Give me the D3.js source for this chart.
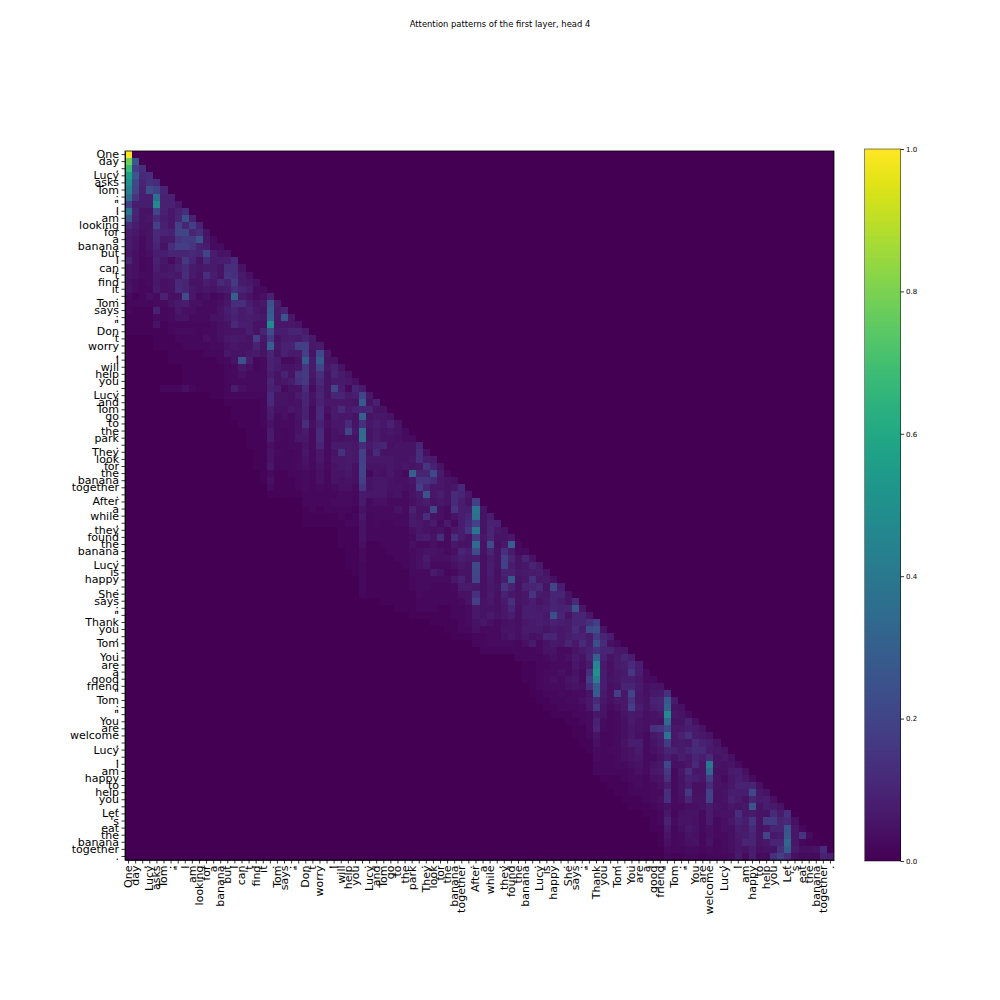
<!DOCTYPE html>
<html>
<head>
<meta charset="utf-8">
<script src="https://cdn.jsdelivr.net/npm/d3@7/dist/d3.min.js"></script>
<style>
html,body{margin:0;padding:0;background:#fff;}
svg{display:block;}
text{font-family:"DejaVu Sans",sans-serif;fill:#000;}
</style>
</head>
<body>
<div id="chart"></div>
<script>
const titleText = "Attention patterns of the first layer, head 4";
const tokens = ["One","day",",","Lucy","asks","Tom",":","\"","I","am","looking","for","a","banana","but","I","can","'t","find","it",".","Tom","says",":","\"","Don","'t","worry",",","I","will","help","you",".","Lucy","and","Tom","go","to","the","park",".","They","look","for","the","banana","together",".","After","a","while",",","they","found","the","banana",".","Lucy","is","happy",".","She","says",":","\"","Thank","you",",","Tom",".","You","are","a","good","friend","\"","Tom",":","\"","You","are","welcome",",","Lucy",".","I","am","happy","to","help","you",".","Let","'s","eat","the","banana","together","."];
const colorbarTicks = [0,0.2,0.4,0.6,0.8,1.0];
// Attention in hundredths. Each row ends on the diagonal; omitted leading columns are zero.
const attentionRows = [
[100],
[78,27],
[68,18,14],
[56,27,11,13],
[50,22,10,14,12],
[44,20,9,23,19,10],
[36,15,8,8,36,9,9],
[19,8,8,8,47,9,9,6],
[38,10,5,5,20,9,6,9,13],
[26,9,5,6,12,8,6,10,24,9],
[11,8,5,5,19,9,6,19,10,18,9],
[8,6,4,5,12,10,9,20,20,10,13,5],
[7,5,3,5,11,6,7,15,17,17,25,6,3],
[7,5,3,5,10,5,13,18,18,15,9,8,3,3],
[6,4,3,4,8,8,10,10,10,11,10,20,8,5,5],
[10,4,2,3,9,6,3,7,16,10,5,12,7,8,8,12],
[5,4,2,3,8,5,6,9,12,7,6,7,7,5,13,13,5],
[5,4,3,3,6,6,7,6,13,7,5,13,8,5,15,14,7,4],
[4,3,2,3,6,4,5,11,10,5,5,8,6,11,9,17,7,6,4],
[5,3,2,2,7,4,5,12,10,6,5,6,5,7,8,14,10,8,3,3],
[3,1,2,4,3,9,4,4,23,6,3,4,2,3,5,30,7,5,3,4,9],
[2,2,2,2,3,3,5,7,8,4,4,3,3,4,6,13,13,8,5,6,25,8],
[2,1,1,1,9,2,3,6,4,4,3,3,3,5,8,10,7,9,6,5,28,7,10],
[1,1,1,1,3,2,3,5,5,3,3,3,5,5,7,9,7,8,7,6,30,7,25,6],
[1,1,1,1,5,1,2,2,2,2,2,2,3,4,5,11,8,8,5,5,48,6,6,6,5],
[1,1,1,1,1,1,2,3,3,3,2,3,3,4,5,5,5,8,5,10,23,8,8,10,10,7],
[1,1,1,2,2,2,2,4,3,4,6,7,6,5,18,6,17,5,7,8,7,10,7],
[1,1,1,1,2,2,2,2,3,3,5,6,5,5,9,5,30,6,9,9,18,18,6,7],
[1,1,1,1,1,2,2,2,6,5,5,6,7,5,10,5,9,7,7,18,5,22,6],
[1,1,1,1,1,1,1,2,3,5,25,8,2,3,9,8,3,3,5,28,7,28,5,5],
[1,1,1,1,1,1,2,3,6,4,2,3,9,7,5,5,6,16,7,20,6,9,5],
[1,1,1,1,1,1,2,3,4,3,3,3,8,5,9,5,15,17,6,13,5,10,7,5],
[1,1,1,1,1,1,2,3,3,3,3,3,10,5,6,8,14,17,5,11,5,7,7,6,4],
[2,2,2,4,2,1,1,1,1,2,8,4,3,3,3,9,8,3,5,5,12,3,9,5,21,8,2,10,7],
[1,1,2,2,2,2,2,2,12,5,5,4,7,10,5,10,5,10,10,7,8,20,6],
[1,1,1,1,1,2,11,5,5,4,5,10,4,9,6,6,6,6,5,28,5,9],
[1,1,1,1,2,8,4,4,6,5,9,3,11,4,7,12,7,9,10,10,5,5],
[1,1,1,1,2,7,3,4,3,5,9,3,12,3,7,6,6,5,30,5,6,6,5],
[1,1,1,2,5,3,3,3,4,13,4,9,4,6,6,12,5,14,6,8,6,9,5],
[1,1,1,7,3,2,3,5,7,3,12,3,5,6,20,6,35,5,7,5,6,5,3],
[1,1,1,7,3,2,3,6,6,3,12,3,5,4,5,5,36,5,7,5,5,4,3,3],
[1,1,1,4,2,2,3,3,5,3,10,3,7,7,7,6,12,7,9,10,4,5,5,5,10],
[1,1,5,3,2,2,3,6,3,6,3,5,14,7,6,19,5,12,5,5,5,5,5,13,4],
[1,1,5,2,2,2,3,5,3,6,3,6,6,7,6,19,6,6,6,6,5,5,6,13,8,7],
[1,1,6,2,2,2,3,4,3,5,3,5,6,7,4,20,5,5,5,6,5,6,5,6,15,9,5],
[1,3,1,1,2,2,3,2,4,2,5,5,6,4,20,2,5,4,6,4,3,30,10,10,22,7,2],
[1,4,1,1,1,2,3,2,4,2,5,4,5,4,18,5,6,6,5,4,4,6,15,15,12,6,5,4],
[3,1,1,1,2,3,2,3,2,3,4,4,3,15,5,6,6,5,5,4,5,18,10,6,6,5,6,11],
[1,1,1,1,1,2,2,2,2,2,3,3,2,7,6,6,6,4,5,3,5,7,25,6,8,5,12,10,6],
[2,2,2,2,3,3,3,2,7,3,4,4,3,3,3,4,6,8,5,6,5,12,8,5,18],
[1,2,1,2,2,2,2,1,5,3,3,3,3,5,3,9,5,5,22,4,3,15,8,8,38,5],
[1,1,1,1,1,2,1,2,6,2,3,3,3,3,3,7,5,13,5,4,3,5,8,10,36,5,8],
[1,1,1,1,1,1,2,2,5,2,3,2,2,3,3,7,6,5,7,3,7,3,8,12,19,5,9,9],
[1,1,1,5,2,2,2,2,2,2,4,6,5,4,5,3,6,8,15,39,5,10,6,5],
[1,1,1,5,2,2,2,2,2,2,3,7,8,5,13,3,14,7,5,17,6,10,5,5,6],
[1,1,1,4,1,1,2,2,2,2,4,3,3,4,3,3,6,5,5,34,5,23,4,6,29,2],
[1,1,3,1,1,1,2,2,2,3,4,5,5,4,3,4,10,8,23,5,10,5,14,7,3,3],
[1,1,3,1,1,1,1,2,2,3,4,7,4,4,4,6,8,7,8,4,7,5,18,10,5,10,5],
[1,1,2,1,1,1,1,1,2,3,4,6,3,3,3,4,6,5,22,4,8,5,19,8,5,6,10,7],
[1,2,1,1,1,1,1,1,3,3,3,7,5,2,3,5,5,21,4,8,4,9,9,6,7,7,8,5],
[2,1,1,1,1,1,1,2,3,3,3,3,3,6,9,5,20,4,7,4,8,27,5,6,14,6,7,4],
[2,1,1,1,1,1,1,2,3,3,2,2,2,3,7,7,7,4,6,5,15,9,5,9,10,11,5,20,8],
[2,1,1,1,1,1,1,1,3,2,2,2,2,2,4,5,14,4,7,4,9,6,5,6,15,7,6,10,10,5],
[1,1,1,1,1,2,2,2,2,2,2,3,5,18,5,6,4,7,14,5,6,8,5,7,10,8,5,12],
[1,1,1,2,2,2,1,1,2,2,3,6,5,5,4,6,10,4,8,8,7,8,10,9,10,25,6],
[1,1,1,1,1,1,2,2,3,6,5,7,5,6,8,4,8,8,8,6,24,10,5,10,10,6],
[1,1,1,1,2,3,5,6,4,3,4,5,4,6,7,8,7,9,8,7,10,10,14,18],
[1,1,2,2,4,3,3,3,5,5,4,7,7,7,5,7,6,7,12,8,22,24,5],
[1,1,1,2,2,3,3,4,6,4,6,4,5,10,10,6,8,9,9,7,17,10,8],
[2,2,3,3,3,3,2,4,7,3,5,7,6,10,6,12,8,24,12,4,3],
[2,2,2,2,2,2,2,2,3,5,5,3,3,5,7,9,14,10,10,6,6],
[2,2,2,2,3,4,3,4,7,5,10,30,9,5,7,10,8],
[1,1,2,2,3,3,3,6,4,7,46,7,4,7,8,12,8],
[1,1,2,3,3,4,3,5,3,14,50,8,4,6,7,16,8,3],
[1,1,2,3,4,3,5,6,3,18,42,8,5,6,8,8,6,3,3],
[1,2,3,3,3,4,5,4,13,28,8,4,5,10,10,7,4,5,5],
[1,1,2,2,3,2,3,3,5,28,7,4,18,6,20,6,4,6,7,14],
[1,1,2,2,3,3,4,6,11,6,4,6,6,15,6,5,9,10,27,7],
[1,1,2,2,2,3,6,16,5,3,4,6,18,8,5,8,9,30,5,4],
[1,1,1,2,2,3,6,5,2,3,5,7,6,4,5,6,48,6,5,3],
[1,1,2,3,9,3,2,3,4,7,5,4,5,4,34,5,5,9,4],
[1,1,3,10,3,2,3,4,6,5,4,14,15,22,6,6,8,7,5],
[1,1,2,5,2,2,3,4,6,4,3,6,8,38,6,9,13,7,6,5],
[1,1,4,2,2,3,5,8,8,3,5,7,17,6,7,6,12,9,8,5],
[1,3,2,3,3,4,5,7,3,4,6,10,9,7,10,12,11,7,6,5],
[3,2,2,3,4,5,6,3,3,5,8,5,8,6,10,8,12,5,6,4],
[2,2,2,3,3,4,5,3,5,6,22,4,4,6,11,6,40,5,4,5,3],
[2,2,2,2,2,3,4,3,6,7,16,3,6,13,6,6,33,4,4,7,8,4],
[1,1,1,2,3,3,2,4,5,14,3,5,9,8,6,18,5,3,6,8,6,3],
[1,1,1,2,3,2,3,4,8,3,5,8,4,4,12,5,4,6,9,9,10,4],
[1,1,2,2,2,3,3,13,3,5,16,4,4,19,4,5,8,8,8,22,6,5],
[1,1,1,2,3,4,14,3,4,10,5,5,19,4,5,9,7,5,10,7,8,4],
[1,1,1,2,3,4,3,3,4,4,5,7,5,4,6,5,6,26,5,8,7,5],
[1,1,2,6,2,4,5,5,3,7,4,5,5,13,6,7,5,5,12,7,14],
[1,2,9,3,5,5,4,3,7,3,4,6,10,8,15,5,17,17,10,11,4],
[1,1,7,2,4,6,5,3,4,3,4,4,8,7,12,5,6,10,10,25,6,2],
[1,5,2,3,5,4,2,4,3,3,4,7,8,10,5,20,6,8,27,6,15,3],
[1,4,2,3,4,5,2,5,2,3,4,6,10,10,5,6,10,10,33,6,2,1,1],
[3,2,2,3,3,2,3,2,3,4,6,5,8,4,5,5,14,28,7,4,4,5,12],
[2,1,1,2,2,1,2,2,2,3,7,3,8,3,3,14,18,13,4,3,3,3,9,8]
];

const W = 1000, H = 1000;
const svg = d3.select("#chart").append("svg").attr("width",W).attr("height",H).attr("viewBox",[0,0,W,H]);
const color = d3.scaleSequential(d3.interpolateViridis).domain([0,1]);
const idx = d3.range(tokens.length);
const x = d3.scaleBand().domain(idx).range([125,834]);
const y = d3.scaleBand().domain(idx).range([151,860]);

const cells = [];
idx.forEach(r=>{
  const row = attentionRows[r], start = r-row.length+1;
  idx.forEach(c=>{
    const v = (c>=start && c<=r) ? row[c-start]/100 : 0;
    cells.push({r,c,v});
  });
});
svg.append("g").attr("shape-rendering","crispEdges").selectAll("rect").data(cells).join("rect")
  .attr("x",d=>x(d.c)).attr("y",d=>y(d.r))
  .attr("width",x.bandwidth()).attr("height",y.bandwidth())
  .attr("fill",d=>color(d.v));

function style(g,size){
  g.selectAll("path.domain").attr("stroke","#000").attr("stroke-width",0.8);
  g.selectAll(".tick line").attr("stroke","#000").attr("stroke-width",0.8);
  g.selectAll("text").attr("font-size",size).attr("font-family","DejaVu Sans").attr("fill","#000");
}
const label = i=>tokens[i];
const gx = svg.append("g").attr("transform","translate(0,860)")
  .call(d3.axisBottom(x).tickFormat(label).tickSize(3.5).tickPadding(3.5).tickSizeOuter(0));
style(gx,11);
gx.selectAll("text").attr("transform",null)
  .attr("text-anchor","end").attr("dy",null).attr("y",null)
  .attr("transform","translate(0,5.5) rotate(-90)").attr("dominant-baseline","central").attr("x",0);
const gy = svg.append("g").attr("transform","translate(125,0)")
  .call(d3.axisLeft(y).tickFormat(label).tickSize(3.5).tickPadding(2.5).tickSizeOuter(0));
style(gy,11);
// frame
svg.append("rect").attr("x",125).attr("y",151).attr("width",709).attr("height",709)
  .attr("fill","none").attr("stroke","#000").attr("stroke-width",0.8);

// colorbar
const cy = d3.scaleLinear().domain([0,1]).range([861,149]);
const steps = d3.range(0,256);
svg.append("g").attr("shape-rendering","crispEdges").selectAll("rect").data(steps).join("rect")
  .attr("x",864.5).attr("width",36)
  .attr("y",i=>cy((i+1)/256)).attr("height",i=>cy(i/256)-cy((i+1)/256)+0.4)
  .attr("fill",i=>color(i/255));
const gc = svg.append("g").attr("transform","translate(900.5,0)")
  .call(d3.axisRight(cy).tickValues(colorbarTicks).tickFormat(d3.format(".1f")).tickSize(3.5).tickPadding(2).tickSizeOuter(0));
style(gc,7);
gc.select("path.domain").remove();
svg.append("rect").attr("x",864.5).attr("y",149).attr("width",36).attr("height",712)
  .attr("fill","none").attr("stroke","#000").attr("stroke-opacity",0.6).attr("stroke-width",0.8);

svg.append("text").attr("x",500).attr("y",27).attr("text-anchor","middle").attr("font-size",8.4).text(titleText);
</script>
</body>
</html>
